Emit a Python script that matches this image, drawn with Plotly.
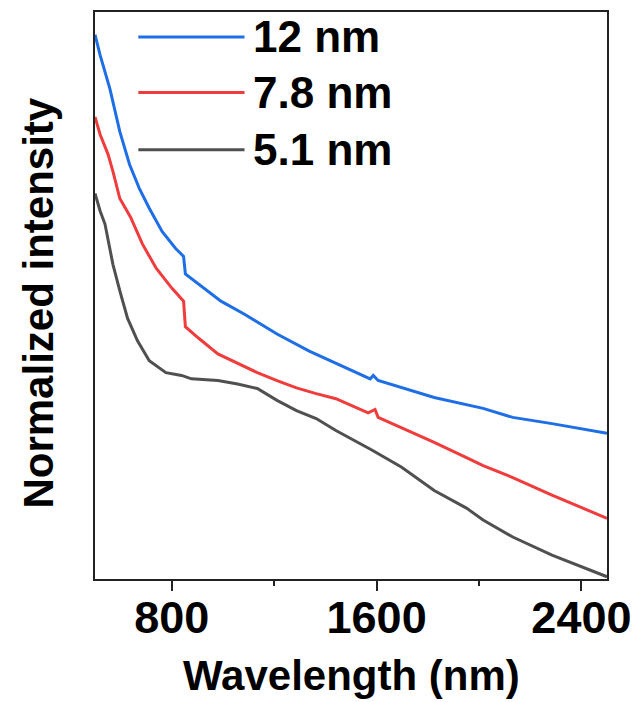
import plotly.graph_objects as go

# Wavelength (nm) and normalized intensity
wl_12 = [500, 520, 558, 597, 635, 673, 712, 762, 815, 846, 853, 904, 992, 1084, 1211, 1337, 1441, 1575, 1587, 1606, 1825, 2016, 2132, 2285, 2500]
int_12 = [0.960, 0.924, 0.865, 0.789, 0.731, 0.689, 0.654, 0.613, 0.583, 0.569, 0.538, 0.520, 0.490, 0.467, 0.432, 0.402, 0.381, 0.353, 0.359, 0.350, 0.320, 0.301, 0.285, 0.274, 0.257]

wl_78 = [500, 520, 551, 570, 597, 639, 685, 739, 800, 846, 853, 904, 980, 1057, 1134, 1211, 1287, 1364, 1441, 1567, 1594, 1606, 1698, 1825, 1951, 2016, 2132, 2285, 2500]
int_78 = [0.815, 0.784, 0.749, 0.719, 0.671, 0.638, 0.591, 0.548, 0.513, 0.490, 0.445, 0.425, 0.397, 0.381, 0.364, 0.350, 0.337, 0.327, 0.318, 0.293, 0.299, 0.285, 0.267, 0.241, 0.214, 0.200, 0.179, 0.148, 0.107]

wl_51 = [500, 520, 539, 570, 597, 627, 666, 712, 777, 838, 877, 980, 1057, 1134, 1211, 1287, 1364, 1441, 1583, 1698, 1825, 1951, 2016, 2132, 2285, 2500]
int_51 = [0.680, 0.649, 0.626, 0.555, 0.508, 0.460, 0.420, 0.385, 0.364, 0.359, 0.353, 0.350, 0.344, 0.336, 0.315, 0.297, 0.283, 0.262, 0.227, 0.197, 0.156, 0.125, 0.104, 0.074, 0.042, 0.004]

labels = ["12 nm", "7.8 nm", "5.1 nm"]
colors = ["#1e6ee6", "#f03c3c", "#505050"]
x_ticks = [800, 1600, 2400]

FONT = "Liberation Sans"

fig = go.Figure()
for wl, inten, name, col in zip([wl_12, wl_78, wl_51], [int_12, int_78, int_51], labels, colors):
    fig.add_trace(go.Scatter(x=wl, y=inten, mode="lines", name=name,
                             line=dict(color=col, width=3), showlegend=False))

# Manual legend (long line samples like the reference)
leg_y = [0.956, 0.858, 0.757]
for name, col, ly in zip(labels, colors, leg_y):
    fig.add_shape(type="line", xref="paper", yref="paper", x0=0.0846, x1=0.292, y0=ly, y1=ly,
                  line=dict(color=col, width=3))
    fig.add_annotation(xref="paper", yref="paper", x=0.305, y=ly, text=f"<b>{name}</b>",
                       showarrow=False, xanchor="left", yanchor="middle",
                       font=dict(family=FONT, size=44, color="black"))

# Axis titles
fig.add_annotation(xref="paper", yref="paper", x=0.5, y=-0.17, text="<b>Wavelength (nm)</b>",
                   showarrow=False, xanchor="center", yanchor="middle",
                   font=dict(family=FONT, size=42, color="black"))
fig.add_annotation(xref="paper", yref="paper", x=-0.11, y=0.487, text="<b>Normalized intensity</b>",
                   showarrow=False, xanchor="center", yanchor="middle", textangle=-90,
                   font=dict(family=FONT, size=42, color="black"))

fig.update_layout(
    width=641, height=702,
    margin=dict(l=95, r=26, t=10, b=123),
    plot_bgcolor="white", paper_bgcolor="white",
    font=dict(family=FONT, color="black"),
)
fig.update_xaxes(
    range=[500, 2500], showgrid=False, zeroline=False,
    showline=True, linecolor="#222", linewidth=2, mirror=True,
    ticks="outside", ticklen=10, tickwidth=2, tickcolor="#222",
    tickvals=x_ticks, ticktext=[f"<b>{v}</b>" for v in x_ticks],
    tickfont=dict(family=FONT, size=45, color="black"),
    ticklabelstandoff=-12,
    minor=dict(ticks="outside", ticklen=5, tickwidth=2, tickcolor="#222", dtick=400, tick0=0),
)
fig.update_yaxes(
    range=[0, 1], showgrid=False, zeroline=False,
    showline=True, linecolor="#222", linewidth=2, mirror=True,
    showticklabels=False, ticks="",
)

fig.write_html("out.html")
